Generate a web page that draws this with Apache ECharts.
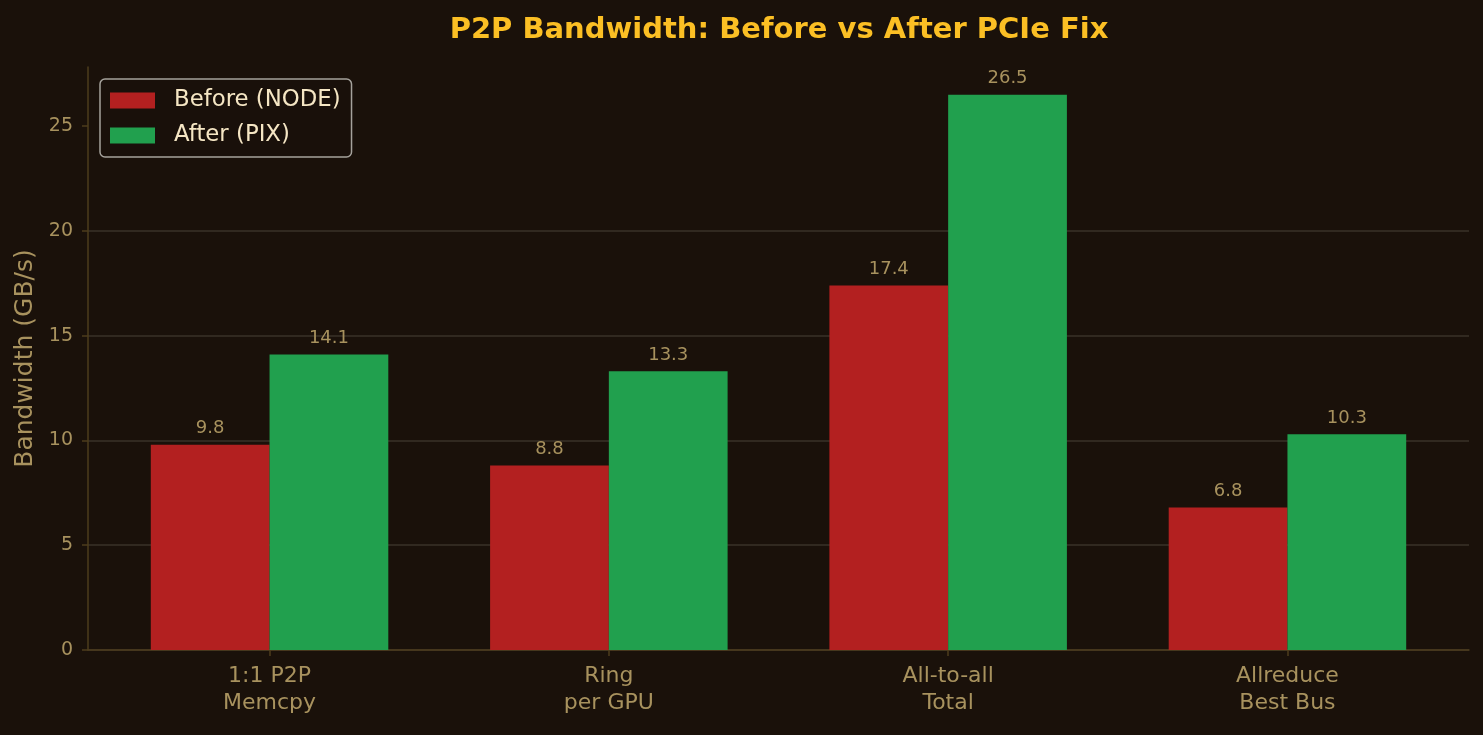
<!DOCTYPE html>
<html>
<head>
<meta charset="utf-8">
<script src="https://cdn.jsdelivr.net/npm/echarts@6/dist/echarts.min.js"></script>
<style>
  html, body { margin: 0; padding: 0; background: #1a110a; }
  #chart { width: 1483px; height: 735px; }
</style>
</head>
<body>
<div id="chart"></div>
<script>
// data
var categories = ['1:1 P2P\nMemcpy', 'Ring\nper GPU', 'All-to-all\nTotal', 'Allreduce\nBest Bus'];
var beforeVals = [9.8, 8.8, 17.4, 6.8];
var afterVals = [14.1, 13.3, 26.5, 10.3];
var seriesNames = ['Before (NODE)', 'After (PIX)'];
var yTicks = [0, 5, 10, 15, 20, 25];

var font = 'DejaVu Sans';
var tickColor = '#a8925e';
var spineColor = '#4d3d1c';

var yMax = 27.825;

var chart = echarts.init(document.getElementById('chart'));

function barLabel() {
    return {
        show: true,
        position: 'top',
        distance: 7,
        color: '#a8925e',
        fontFamily: font,
        fontSize: 18,
        formatter: function (p) { return p.value.toFixed(1); }
    };
}

var option = {
    backgroundColor: '#1a110a',
    animation: false,
    title: {
        text: 'P2P Bandwidth: Before vs After PCIe Fix',
        left: 774,
        textAlign: 'center',
        top: 11,
        textStyle: {
            fontFamily: font,
            fontWeight: 'bold',
            fontSize: 29,
            color: '#fbbf24'
        }
    },
    legend: {
        orient: 'vertical',
        left: 100,
        top: 79,
        padding: [10, 11, 10, 10],
        itemWidth: 45,
        itemHeight: 16,
        itemGap: 12,
        borderColor: '#a5a29c',
        borderWidth: 1.5,
        borderRadius: 5,
        backgroundColor: 'rgba(26,17,10,0.85)',
        icon: 'rect',
        textStyle: {
            fontFamily: font,
            fontSize: 22.8,
            color: '#f5e6c4',
            padding: [0, 0, 0, 14]
        },
        data: seriesNames
    },
    grid: [
        { left: 88, right: 14, top: 67, bottom: 85 },
        { left: 99.9, right: 25.9, top: 67, bottom: 85 }
    ],
    xAxis: [
        {
            type: 'value', gridIndex: 0, min: 0, max: 1,
            axisLine: { show: true, onZero: false, lineStyle: { color: spineColor, width: 1.5 } },
            axisTick: { show: false },
            axisLabel: { show: false },
            splitLine: { show: false }
        },
        {
            type: 'category', gridIndex: 1, data: categories,
            axisLine: { show: false },
            axisTick: { show: true, alignWithLabel: true, length: 6, lineStyle: { color: spineColor, width: 1.5 } },
            axisLabel: {
                fontFamily: font, fontSize: 22, color: tickColor,
                lineHeight: 27, margin: 13
            },
            splitLine: { show: false }
        }
    ],
    yAxis: [
        {
            type: 'value', gridIndex: 0, min: 0, max: yMax, interval: 5,
            name: 'Bandwidth (GB/s)',
            nameLocation: 'middle',
            nameGap: 45,
            nameTextStyle: { fontFamily: font, fontSize: 25, color: tickColor },
            axisLine: { show: true, lineStyle: { color: spineColor, width: 1.5 } },
            axisTick: { show: true, length: 6, customValues: yTicks, lineStyle: { color: spineColor, width: 1.5 } },
            axisLabel: {
                fontFamily: font, fontSize: 19, color: tickColor, margin: 15,
                customValues: yTicks
            },
            splitLine: { show: true, showMaxLine: false, lineStyle: { color: '#3a3228', width: 1.5 } }
        },
        {
            type: 'value', gridIndex: 1, min: 0, max: yMax,
            show: false, splitLine: { show: false }
        }
    ],
    series: [
        {
            name: seriesNames[0], type: 'bar', xAxisIndex: 1, yAxisIndex: 1,
            data: beforeVals, barWidth: '35%', barGap: '0%',
            itemStyle: { color: '#b32020' },
            label: barLabel()
        },
        {
            name: seriesNames[1], type: 'bar', xAxisIndex: 1, yAxisIndex: 1,
            data: afterVals, barWidth: '35%', barGap: '0%',
            itemStyle: { color: '#21a04e' },
            label: barLabel()
        }
    ]
};
chart.setOption(option);
</script>
</body>
</html>
